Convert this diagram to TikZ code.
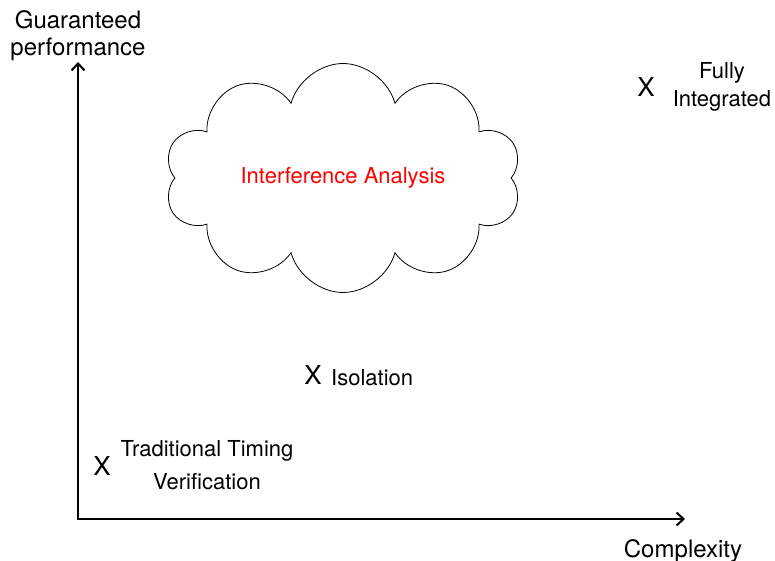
\documentclass[tikz,border=0pt]{standalone}
\usepackage{fontspec}
\setmainfont{TeX Gyre Heros}
\usetikzlibrary{shapes.symbols}
\usetikzlibrary{arrows.meta}

\begin{document}
\begin{tikzpicture}[x=1pt,y=-1pt,
	axis/.style={line width=2pt,{Straight Barb[length=7pt,width=13pt]}-{Straight Barb[length=7pt,width=13pt]}},
	axislbl/.style={font=\fontsize{24}{27}\selectfont,align=center,inner sep=0pt},
	xmark/.style={font=\fontsize{26}{26}\selectfont,inner sep=0pt},
	ptlbl/.style={font=\fontsize{22}{28}\selectfont,align=center,inner sep=0pt}]
%\draw[help lines] (0,0) grid[step=50] (775,561);

\path[use as bounding box] (0,0) rectangle (775,561);

% axes
\coordinate (origin) at (78,519);
\coordinate (ytip) at (78,62);
\coordinate (xtip) at (685,519);
\draw[axis] (ytip) -- (origin) -- (xtip);

\node[axislbl,anchor=north] (ylbl) at (78,10) {Guaranteed\\performance};
\node[axislbl,anchor=base] (xlbl) at (683,557) {Complexity};

% the cloud
\node[cloud,draw,line width=0.8pt,cloud puffs=10,cloud ignores aspect,
	minimum width=357pt,minimum height=229pt,
	font=\fontsize{22}{22}\selectfont,text=red] (interf) at (343,178) {Interference Analysis};

% the points
\node[xmark,anchor=base] (xfull) at (646,97) {X};
\node[ptlbl,anchor=north] (full) at (722,62) {Fully\\Integrated};

\node[xmark,anchor=base] (xiso) at (313,384) {X};
\node[ptlbl,anchor=base west] (iso) at (331,385) {Isolation};

\node[xmark,anchor=base] (xtrad) at (102,475) {X};
\node[ptlbl,anchor=north,font=\fontsize{22}{33}\selectfont] (trad) at (207,440) {Traditional Timing\\Verification};

\end{tikzpicture}
\end{document}
